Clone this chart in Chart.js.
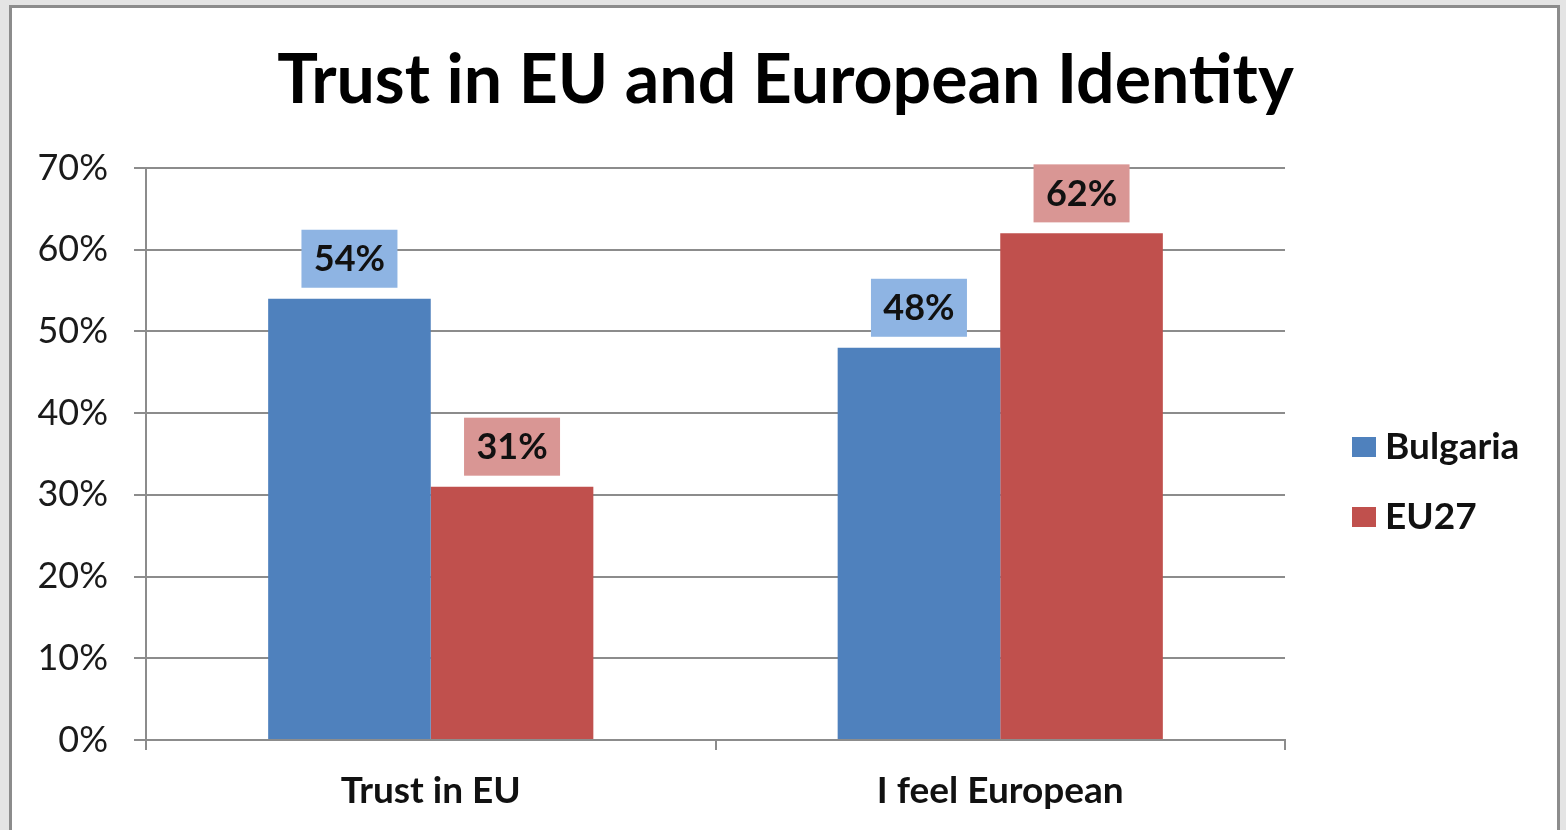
<!DOCTYPE html>
<html><head><meta charset="utf-8">
<script src="https://cdn.jsdelivr.net/npm/chart.js@4.4.0/dist/chart.umd.min.js"></script>
<style>
html,body{margin:0;padding:0;background:#e4e4e4;overflow:hidden;width:1566px;height:830px;}
#box{position:absolute;left:9px;top:5px;width:1545px;height:840px;border:3px solid #8c8c8c;background:#fff;}
#c{position:absolute;left:0;top:0;}
</style></head><body>
<div id="box"><canvas id="c" width="1545" height="822" style="width:1545px;height:822px"></canvas></div>
<script>
const categories = ["Trust in EU", "I feel European"];
const seriesNames = ["Bulgaria", "EU27"];
const bulgaria = [0.54, 0.48];
const eu27 = [0.31, 0.62];
const yTicks = [0, 0.1, 0.2, 0.3, 0.4, 0.5, 0.6, 0.7];
const titleText = "Trust in EU and European Identity";

const barColors = ["#4f81bd", "#c0504d"];
const labelBg = ["#8eb4e3", "#d99694"];
const FONT = "Lato";

const titlePlugin = {
  id: 'boxTitle',
  afterDraw(chart) {
    const ctx = chart.ctx;
    ctx.save();
    ctx.font = "bold 68px " + FONT;
    ctx.textAlign = "center";
    ctx.textBaseline = "middle";
    ctx.fillStyle = "#000";
    ctx.fillText(titleText, chart.width / 2 + 1, 73);
    ctx.restore();
  }
};

const labelPlugin = {
  id: 'boxLabels',
  afterDatasetsDraw(chart) {
    const ctx = chart.ctx;
    ctx.save();
    ctx.font = "bold 36px " + FONT;
    ctx.textAlign = "center";
    ctx.textBaseline = "middle";
    chart.data.datasets.forEach((ds, di) => {
      const meta = chart.getDatasetMeta(di);
      meta.data.forEach((bar, i) => {
        const txt = Math.round(ds.data[i] * 100) + "%";
        const w = 96, h = 58;
        const cx = bar.x, bottom = bar.y - 11;
        ctx.fillStyle = labelBg[di];
        ctx.fillRect(cx - w / 2, bottom - h, w, h);
        ctx.fillStyle = "#111";
        ctx.fillText(txt, cx, bottom - h / 2 + 1);
      });
    });
    ctx.restore();
  }
};

const legendPlugin = {
  id: 'sideLegend',
  afterDraw(chart) {
    const ctx = chart.ctx;
    ctx.save();
    ctx.font = "bold 37px " + FONT;
    ctx.textAlign = "left";
    ctx.textBaseline = "middle";
    const rows = [439, 509];
    chart.data.datasets.forEach((ds, di) => {
      const y = rows[di];
      ctx.fillStyle = ds.backgroundColor;
      ctx.fillRect(1340, y - 10, 24, 20);
      ctx.fillStyle = "#111";
      ctx.fillText(ds.label, 1373, y);
    });
    ctx.restore();
  }
};

new Chart(document.getElementById('c'), {
  type: 'bar',
  data: {
    labels: categories,
    datasets: [
      { label: seriesNames[0], data: bulgaria, backgroundColor: barColors[0] },
      { label: seriesNames[1], data: eu27, backgroundColor: barColors[1] }
    ]
  },
  options: {
    responsive: false,
    animation: false,
    devicePixelRatio: 1,
    layout: { padding: { left: 0, right: 272, top: 160, bottom: 0 } },
    datasets: { bar: { categoryPercentage: 0.571, barPercentage: 1.0 } },
    plugins: {
      legend: { display: false },
      tooltip: { enabled: false },
      title: { display: false }
    },
    scales: {
      x: {
        grid: { offset: true, drawOnChartArea: false, drawTicks: true, tickLength: 10, color: "#8c8c8c", lineWidth: 2 },
        border: { display: true, color: "#8c8c8c", width: 2 },
        ticks: { color: "#111", font: { family: FONT, size: 37, weight: 'bold' }, padding: 19 },
        afterFit(s) { s.height = 90; }
      },
      y: {
        min: 0, max: 0.7,
        afterBuildTicks(s) { s.ticks = yTicks.map(v => ({ value: v })); },
        grid: { color: "#8c8c8c", lineWidth: 2, tickLength: 12 },
        border: { display: true, color: "#8c8c8c", width: 2 },
        ticks: {
          color: "#1a1a1a",
          font: { family: FONT, size: 36 },
          padding: 26,
          callback: v => Math.round(v * 100) + "%"
        },
        afterFit(s) { s.width = 134; }
      }
    }
  },
  plugins: [labelPlugin, legendPlugin, titlePlugin]
});
</script>
</body></html>
